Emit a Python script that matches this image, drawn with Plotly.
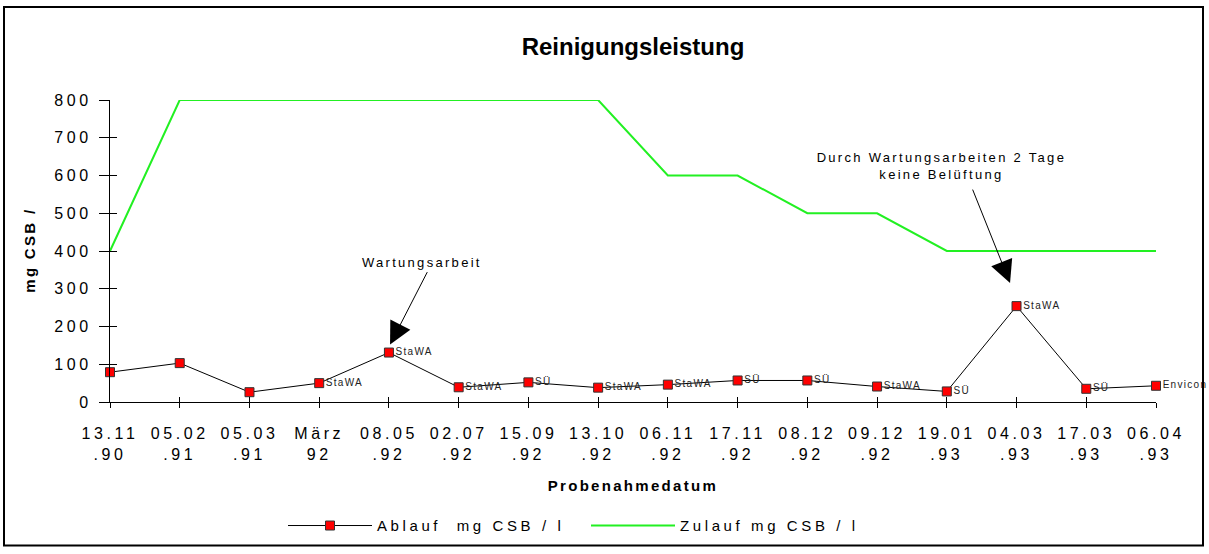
import plotly.graph_objects as go

categories = ["13.11<br>.90", "05.02<br>.91", "05.03<br>.91", "März<br>92", "08.05<br>.92",
              "02.07<br>.92", "15.09<br>.92", "13.10<br>.92", "06.11<br>.92", "17.11<br>.92",
              "08.12<br>.92", "09.12<br>.92", "19.01<br>.93", "04.03<br>.93", "17.03<br>.93",
              "06.04<br>.93"]
ablauf = [79, 103, 26, 50, 131, 39, 52, 38, 46, 57, 57, 41, 28, 254, 35, 43]
zulauf = [400, 800, 800, 800, 800, 800, 800, 800, 600, 600, 500, 500, 400, 400, 400, 400]
point_labels = ["", "", "", "StaWA", "StaWA", "StaWA", "SÜ", "StaWA", "StaWA", "SÜ",
                "SÜ", "StaWA", "SÜ", "StaWA", "SÜ", "Envicon"]
yticks = [0, 100, 200, 300, 400, 500, 600, 700, 800]

idx = list(range(len(categories)))
FONT = "Liberation Sans, Arial, sans-serif"

# pixel helpers for layout (plot area 110..1156 x, 100..405 y)
L, R, T, B = 110, 1156, 100, 405
def px(x):
    return (x - L) / (R - L)
def py(y):
    return (B - y) / (B - T)

fig = go.Figure()
fig.add_trace(go.Scatter(
    x=idx, y=ablauf, mode="lines+markers+text", name="Ablauf  mg CSB / l",
    line=dict(color="black", width=1),
    marker=dict(symbol="square", size=9, color="#ff0000", line=dict(color="#333333", width=1)),
    text=point_labels, textposition="middle right",
    textfont=dict(family=FONT, size=10, color="#222222"),
    cliponaxis=False, legend="legend",
))
fig.add_trace(go.Scatter(
    x=idx, y=zulauf, mode="lines", name="Zulauf mg CSB / l",
    line=dict(color="#22f022", width=2), legend="legend2",
))
# invisible trace so the overlay axes (inside half of crossing ticks) are drawn
fig.add_trace(go.Scatter(x=[0], y=[0], xaxis="x2", yaxis="y2", mode="markers",
                         marker=dict(opacity=0), showlegend=False, hoverinfo="skip"))

fig.update_layout(
    width=1209, height=554,
    margin=dict(l=L, r=1209 - R, t=T, b=554 - B),
    paper_bgcolor="white", plot_bgcolor="white",
    font=dict(family=FONT, size=15, color="black"),
    title=dict(text="<b>Reinigungsleistung</b>", x=633 / 1209, xanchor="center",
               y=1 - 47 / 554, yanchor="middle",
               font=dict(family=FONT, size=24, color="black")),
    xaxis=dict(range=[0, 15], tickvals=idx, ticktext=categories, showgrid=False,
               zeroline=False, showline=True, linecolor="black", linewidth=1,
               ticks="outside", ticklen=5, tickcolor="black", ticklabelstandoff=12,
               tickfont=dict(family=FONT, size=16)),
    xaxis2=dict(range=[0, 15], tickvals=idx, overlaying="x", anchor="y", side="bottom",
                showticklabels=False, showgrid=False, zeroline=False, showline=False,
                ticks="inside", ticklen=5, tickcolor="black"),
    yaxis=dict(range=[0, 800], tickvals=yticks, showgrid=False, zeroline=False,
               showline=True, linecolor="black", linewidth=1,
               ticks="outside", ticklen=10, tickcolor="black", ticklabelstandoff=4,
               tickfont=dict(family=FONT, size=16)),
    yaxis2=dict(range=[0, 800], tickvals=yticks, overlaying="y", anchor="x", side="left",
                showticklabels=False, showgrid=False, zeroline=False, showline=False,
                ticks="inside", ticklen=7, tickcolor="black"),
    showlegend=True,
    legend=dict(orientation="h", x=px(283), xanchor="left", y=py(530), yanchor="middle",
                itemwidth=84, entrywidth=290, entrywidthmode="pixels",
                font=dict(family=FONT, size=15), bgcolor="rgba(0,0,0,0)"),
    legend2=dict(orientation="h", x=px(586), xanchor="left", y=py(530), yanchor="middle",
                 itemwidth=84, entrywidth=290, entrywidthmode="pixels",
                 font=dict(family=FONT, size=15), bgcolor="rgba(0,0,0,0)"),
)

# axis titles
fig.add_annotation(xref="paper", yref="paper", x=px(633), y=py(489),
                   text="<b>Probenahmedatum</b>", showarrow=False,
                   font=dict(family=FONT, size=15), xanchor="center", yanchor="middle")
fig.add_annotation(xref="paper", yref="paper", x=px(30), y=py(251),
                   text="<b>mg CSB /</b>", showarrow=False, textangle=-90,
                   font=dict(family=FONT, size=15), xanchor="center", yanchor="middle")

# callouts
fig.add_annotation(x=4.016, y=152, text="", showarrow=True, ax=38, ay=-74,
                   arrowhead=2, arrowsize=4.5, arrowwidth=1, arrowcolor="black")
fig.add_annotation(xref="paper", yref="paper", x=px(422), y=py(264),
                   text="Wartungsarbeit", showarrow=False,
                   font=dict(family=FONT, size=13), xanchor="center", yanchor="middle")
fig.add_annotation(x=12.907, y=315, text="", showarrow=True, ax=-38, ay=-95,
                   arrowhead=2, arrowsize=4.5, arrowwidth=1, arrowcolor="black")
fig.add_annotation(xref="paper", yref="paper", x=px(941), y=py(167),
                   text="Durch Wartungsarbeiten 2 Tage<br>keine Belüftung", showarrow=False,
                   font=dict(family=FONT, size=13), xanchor="center", yanchor="middle")

# outer frame
fig.add_shape(type="rect", xref="paper", yref="paper",
              x0=px(4), x1=px(1203), y0=py(550), y1=py(6),
              line=dict(color="black", width=2), fillcolor="rgba(0,0,0,0)")

post = """
document.body.style.margin='0';
var s=document.createElement('style');
s.textContent='.xtick text,.ytick text{letter-spacing:3.6px}'+
 '.legendtext, g.legend text, g.legend2 text, g[class^="legend"] text{letter-spacing:3.6px}'+
 '.annotation-text{letter-spacing:2.3px}'+
 '.textpoint text{letter-spacing:1.3px}';
document.head.appendChild(s);
"""
fig.write_html("out.html", post_script=post, config={"displayModeBar": False})
